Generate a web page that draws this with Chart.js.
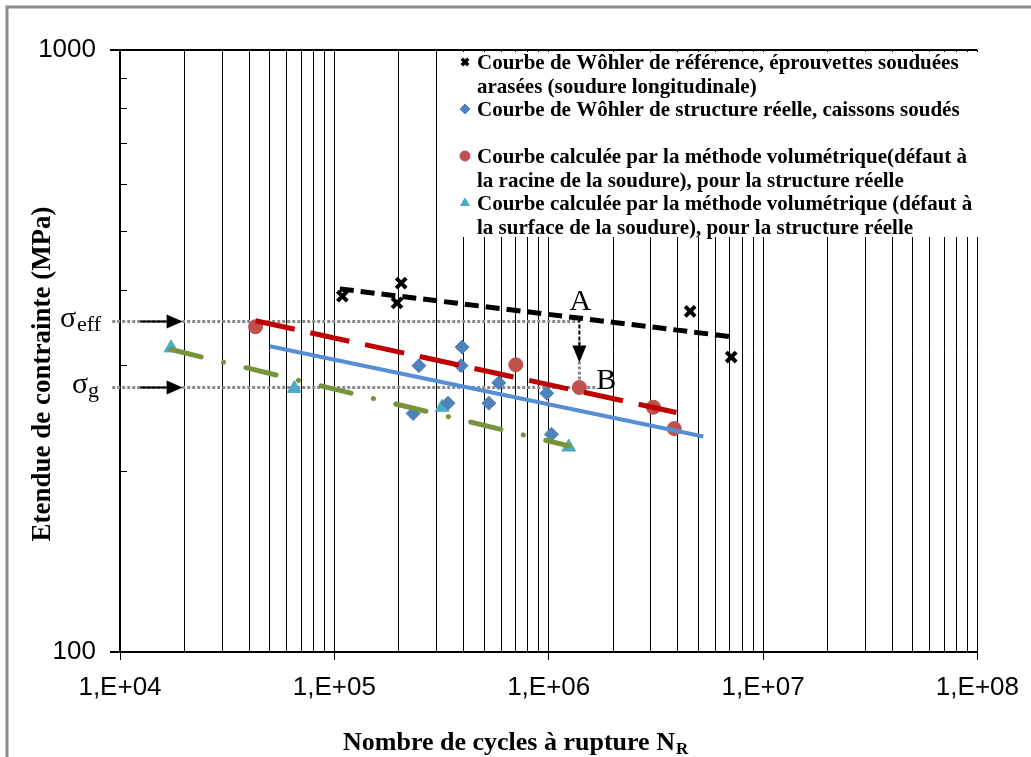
<!DOCTYPE html>
<html>
<head>
<meta charset="utf-8">
<script src="https://cdn.jsdelivr.net/npm/chart.js@4.4.1/dist/chart.umd.min.js"></script>
<style>
  html, body { margin: 0; padding: 0; background: #fff; }
  canvas { display: block; }
</style>
</head>
<body>
<canvas id="chartCanvas" width="1031" height="757"></canvas>
<script>
// valeurs : N (cycles) et étendue de contrainte (MPa)
const refN = [1.09e5, 2.05e5, 1.96e5, 4.57e6, 7.10e6];
const refS = [390, 410, 380, 368, 309];
const refTrendN = [1.06e5, 7.1e6];
const refTrendS = [401, 334];

const realN = [2.33e5, 2.48e5, 3.39e5, 3.90e5, 3.94e5, 5.26e5, 5.85e5, 9.79e5, 1.03e6];
const realS = [249, 299, 259, 299, 321, 259, 280, 269, 230];
const realTrendN = [5.0e4, 5.26e6];
const realTrendS = [322, 228];

const racineN = [4.29e4, 7.02e5, 1.39e6, 3.08e6, 3.85e6];
const racineS = [347, 300, 275, 255, 235];
const racineTrendN = [4.29e4, 3.94e6];
const racineTrendS = [355, 250];

const surfaceN = [1.73e4, 6.51e4, 3.18e5, 1.24e6];
const surfaceS = [320, 274, 255, 219];
const surfaceTrendN = [1.73e4, 1.24e6];
const surfaceTrendS = [318, 220];

// repères A / B et niveaux sigma
const sigmaEff = 354;
const sigmaG = 275;
const nAB = 1.39e6;
const nGuideStart = 9.2e3;
const nGuideEffEnd = 1.39e6;
const nGuideGEnd = 1.65e6;
const nArrowStart = 1.24e4;
const nArrowEnd = 1.96e4;

const xTickValues = [];
for (let e = 4; e < 8; e++) {
  for (let m = 1; m < 10; m++) xTickValues.push(m * Math.pow(10, e));
}
xTickValues.push(1e8);
const yTickValues = [100, 1000];
const yMinorValues = [200, 300, 400, 500, 600, 700, 800, 900];

const legendEntries = [
  { lines: ['Courbe de Wôhler de référence, éprouvettes souduées', 'arasées (soudure longitudinale)'], row: 0 },
  { lines: ['Courbe de Wôhler de structure réelle, caissons soudés'], row: 2 },
  { lines: ['Courbe calculée par la méthode volumétrique(défaut à', 'la racine de la soudure), pour la structure réelle'], row: 4 },
  { lines: ['Courbe calculée par la méthode volumétrique (défaut à', 'la surface de la soudure), pour la structure réelle'], row: 6 }
];

const zip = (xs, ys) => xs.map((x, i) => ({ x: x, y: ys[i] }));
const isDecade = v => Math.abs(Math.log10(v) - Math.round(Math.log10(v))) < 1e-9;

const markerSets = [
  { data: zip(refN, refS), pointStyle: 'crossRot', color: '#000000', radius: 7, border: 4 },
  { data: zip(realN, realS), pointStyle: 'rectRot', color: '#4f81bd', radius: 7, border: 1 },
  { data: zip(racineN, racineS), pointStyle: 'circle', color: '#c0504d', radius: 7, border: 1 },
  { data: zip(surfaceN, surfaceS), pointStyle: 'triangle', color: '#4bacc6', radius: 8, border: 1 }
];

const trendSets = [
  { data: zip(refTrendN, refTrendS), color: '#000000', width: 5, dash: [14, 7], cap: 'butt' },
  { data: zip(realTrendN, realTrendS), color: '#558ed5', width: 4, dash: [], cap: 'butt' },
  { data: zip(racineTrendN, racineTrendS), color: '#c00000', width: 5, dash: [40, 16], cap: 'butt' },
  { data: zip(surfaceTrendN, surfaceTrendS), color: '#77933c', width: 5, dash: [31, 23, 0.1, 23], cap: 'round' }
];

const datasets = [];
markerSets.forEach(m => datasets.push({
  type: 'scatter', data: m.data, order: 2,
  pointStyle: m.pointStyle, pointRadius: m.radius, pointBorderWidth: m.border,
  backgroundColor: m.color, borderColor: m.color, showLine: false
}));
trendSets.forEach(t => datasets.push({
  type: 'line', data: t.data, order: 1,
  borderColor: t.color, borderWidth: t.width, borderDash: t.dash, borderCapStyle: t.cap,
  pointRadius: 0, fill: false, tension: 0
}));

function arrowHead(ctx, x, y, dir, len, half) {
  // dir: 'right' ou 'down'
  ctx.beginPath();
  if (dir === 'right') {
    ctx.moveTo(x, y); ctx.lineTo(x - len, y - half); ctx.lineTo(x - len, y + half);
  } else {
    ctx.moveTo(x, y); ctx.lineTo(x - half, y - len); ctx.lineTo(x + half, y - len);
  }
  ctx.closePath();
  ctx.fill();
}

const decorPlugin = {
  id: 'decor',
  beforeDraw(chart) {
    const ctx = chart.ctx;
    ctx.save();
    ctx.fillStyle = '#fff';
    ctx.fillRect(0, 0, chart.width, chart.height);
    ctx.strokeStyle = '#8c8c8c';
    ctx.lineWidth = 3;
    ctx.strokeRect(7, 7, chart.width + 20, chart.height + 20);
    ctx.restore();
  },
  beforeDatasetsDraw(chart) {
    const ctx = chart.ctx;
    const sx = chart.scales.x, sy = chart.scales.y;
    const area = chart.chartArea;
    ctx.save();
    // petites graduations intérieures de l'axe y
    ctx.strokeStyle = '#000';
    ctx.lineWidth = 1;
    yMinorValues.forEach(v => {
      const y = Math.round(sy.getPixelForValue(v)) + 0.5;
      ctx.beginPath(); ctx.moveTo(area.left, y); ctx.lineTo(area.left + 7, y); ctx.stroke();
    });
    // lignes pointillées sigma_eff et sigma_g
    ctx.strokeStyle = '#8a8a8a';
    ctx.lineWidth = 3;
    ctx.setLineDash([3, 2]);
    const yEff = sy.getPixelForValue(sigmaEff);
    const yG = sy.getPixelForValue(sigmaG);
    ctx.beginPath();
    ctx.moveTo(sx.getPixelForValue(nGuideStart), yEff); ctx.lineTo(sx.getPixelForValue(nGuideEffEnd), yEff);
    ctx.moveTo(sx.getPixelForValue(nGuideStart), yG); ctx.lineTo(sx.getPixelForValue(nGuideGEnd), yG);
    ctx.stroke();
    // flèche verticale A -> B
    const xAB = sx.getPixelForValue(nAB);
    ctx.beginPath(); ctx.moveTo(xAB, yEff + 20); ctx.lineTo(xAB, yG); ctx.stroke();
    ctx.setLineDash([]);
    ctx.strokeStyle = '#000';
    ctx.fillStyle = '#000';
    ctx.lineWidth = 2;
    ctx.setLineDash([4, 2]);
    ctx.beginPath(); ctx.moveTo(xAB, yEff - 3); ctx.lineTo(xAB, yEff + 26); ctx.stroke();
    ctx.setLineDash([]);
    arrowHead(ctx, xAB, yEff + 41, 'down', 17, 7);
    // flèches horizontales à gauche
    const xa0 = sx.getPixelForValue(nArrowStart), xa1 = sx.getPixelForValue(nArrowEnd);
    [yEff, yG].forEach(y => {
      ctx.beginPath(); ctx.moveTo(xa0, y); ctx.lineTo(xa1 - 14, y); ctx.stroke();
      arrowHead(ctx, xa1, y, 'right', 16, 7);
    });
    ctx.restore();
  },
  afterDraw(chart) {
    const ctx = chart.ctx;
    const sx = chart.scales.x, sy = chart.scales.y;
    const area = chart.chartArea;
    ctx.save();
    // légende
    ctx.fillStyle = '#fff';
    ctx.fillRect(456, area.top + 2, area.right - 456 + 10, 237 - area.top - 2);
    ctx.font = 'bold 21px "Liberation Serif"';
    ctx.textBaseline = 'middle';
    ctx.textAlign = 'left';
    legendEntries.forEach((entry, i) => {
      const m = markerSets[i];
      const y0 = 62 + entry.row * 23.5;
      const isCross = m.pointStyle === 'crossRot';
      ctx.fillStyle = m.color;
      ctx.strokeStyle = m.color;
      ctx.lineWidth = isCross ? 3.5 : 1;
      Chart.helpers.drawPoint(ctx, {
        pointStyle: m.pointStyle, rotation: 0,
        radius: isCross ? 4.5 : 5,
        borderWidth: isCross ? 3.5 : 1
      }, 465, y0);
      ctx.fillStyle = '#000';
      entry.lines.forEach((t, k) => ctx.fillText(t, 477, y0 + 2 + k * 23.5));
    });
    // titres des axes
    ctx.fillStyle = '#000';
    ctx.textBaseline = 'alphabetic';
    ctx.save();
    ctx.font = 'bold 27px "Liberation Serif"';
    ctx.translate(50, 374);
    ctx.rotate(-Math.PI / 2);
    ctx.textAlign = 'center';
    ctx.fillText('Etendue de contrainte (MPa)', 0, 0);
    ctx.restore();
    const xt = 'Nombre de cycles à rupture N';
    ctx.font = 'bold 26px "Liberation Serif"';
    const wMain = ctx.measureText(xt).width;
    const xStart = 343;
    ctx.textAlign = 'left';
    ctx.fillText(xt, xStart, 750);
    ctx.font = 'bold 17px "Liberation Serif"';
    ctx.fillText('R', xStart + wMain + 1, 754);
    // sigma
    const yEff = sy.getPixelForValue(sigmaEff);
    const yG = sy.getPixelForValue(sigmaG);
    ctx.font = '30px "Liberation Serif"';
    ctx.fillText('σ', 60, yEff + 5);
    ctx.fillText('σ', 72, yG + 5);
    ctx.font = '22px "Liberation Serif"';
    ctx.fillText('eff', 77, yEff + 9);
    ctx.fillText('g', 88, yG + 9);
    // A et B
    const xAB = sx.getPixelForValue(nAB);
    ctx.font = '30px "Liberation Serif"';
    ctx.textAlign = 'center';
    ctx.fillText('A', xAB + 1, yEff - 12);
    ctx.textAlign = 'left';
    ctx.fillText('B', xAB + 17, yG + 1);
    ctx.restore();
  }
};

const ctx = document.getElementById('chartCanvas').getContext('2d');
const chart = new Chart(ctx, {
  data: { datasets: datasets },
  options: {
    responsive: false,
    animation: false,
    events: [],
    layout: { padding: { left: 0, right: 49, top: 50, bottom: 0 } },
    plugins: { legend: { display: false }, tooltip: { enabled: false }, title: { display: false } },
    scales: {
      x: {
        type: 'logarithmic', min: 1e4, max: 1e8,
        afterBuildTicks: s => { s.ticks = xTickValues.map(v => ({ value: v })); },
        afterFit: s => { s.height = 105; },
        border: { display: true, color: '#000', width: 2 },
        grid: {
          color: '#000', lineWidth: 1, drawOnChartArea: true, drawTicks: true, tickLength: 8,
          tickColor: c => (c.tick && isDecade(c.tick.value)) ? '#000' : 'rgba(0,0,0,0)'
        },
        ticks: {
          autoSkip: false, maxRotation: 0, padding: 12, color: '#000',
          font: { family: '"Liberation Sans"', size: 26 },
          callback: v => isDecade(v) ? '1,E+' + String(Math.round(Math.log10(v))).padStart(2, '0') : ''
        }
      },
      y: {
        type: 'logarithmic', min: 100, max: 1000,
        afterBuildTicks: s => { s.ticks = yTickValues.map(v => ({ value: v })); },
        afterFit: s => { s.width = 120; },
        border: { display: true, color: '#000', width: 2 },
        grid: { color: '#000', lineWidth: 2, drawTicks: true, tickLength: 10, tickColor: '#000' },
        ticks: {
          padding: 14, color: '#000',
          font: { family: '"Liberation Sans"', size: 26 },
          callback: v => String(v)
        }
      }
    }
  },
  plugins: [decorPlugin]
});
</script>
</body>
</html>
